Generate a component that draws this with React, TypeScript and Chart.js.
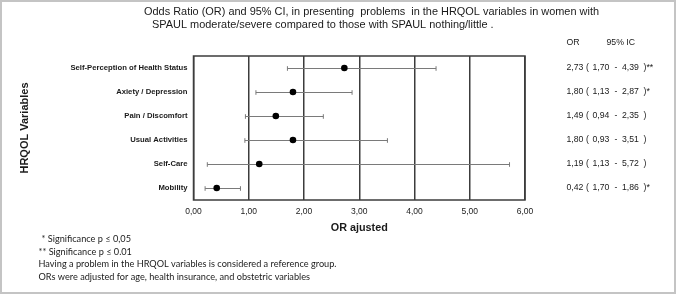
import React, { useEffect, useRef } from 'react';
import { Chart, registerables } from 'chart.js';

Chart.register(...registerables);

const categories = [
  'Self-Perception of Health Status',
  'Axiety / Depression',
  'Pain / Discomfort',
  'Usual Activities',
  'Self-Care',
  'Mobility',
];
const orValues = [2.73, 1.8, 1.49, 1.8, 1.19, 0.42];
const ciLower = [1.7, 1.13, 0.94, 0.93, 0.25, 0.21];
const ciUpper = [4.39, 2.87, 2.35, 3.51, 5.72, 0.85];

const tableOR = ['2,73', '1,80', '1,49', '1,80', '1,19', '0,42'];
const tableLow = ['1,70', '1,13', '0,94', '0,93', '1,13', '1,70'];
const tableHigh = ['4,39', '2,87', '2,35', '3,51', '5,72', '1,86'];
const tableSig = ['**', '*', '', '', '', '*'];
const tableHeaders = ['OR', '95% IC'];

const xMin = 0;
const xMax = 6;
const xStep = 1;

const titleLines = [
  'Odds Ratio (OR) and 95% CI, in presenting  problems  in the HRQOL variables in women with',
  'SPAUL moderate/severe compared to those with SPAUL nothing/little .',
];
const footnotes = [
  '* Significance p \u2264 0,05',
  '** Significance p \u2264 0.01',
  'Having a problem in the HRQOL variables is considered a reference group.',
  'ORs were adjusted for age, health insurance, and obstetric variables',
];
const yAxisTitle = 'HRQOL Variables';
const xAxisTitle = 'OR ajusted';

const TEXT = '#1a1a1a';
const GRID = '#3c3c3c';
const WHISKER = '#7a7a7a';

function drawScaled(ctx: CanvasRenderingContext2D, text: string, x: number, y: number, sx: number) {
  ctx.save();
  ctx.translate(x, y);
  ctx.scale(sx, 1);
  ctx.fillText(text, 0, 0);
  ctx.restore();
}

const decorPlugin = {
  id: 'decor',
  beforeDraw(chart: any) {
    const { ctx, width, height } = chart;
    ctx.save();
    ctx.fillStyle = '#ffffff';
    ctx.fillRect(0, 0, width, height);
    ctx.strokeStyle = '#c4c4c4';
    ctx.lineWidth = 2;
    ctx.strokeRect(1, 1, width - 2, height - 2);
    ctx.restore();
  },
  beforeDatasetsDraw(chart: any) {
    const { ctx, chartArea, scales } = chart;
    const xs = scales.x;
    const ys = scales.y;
    ctx.save();
    // plot box
    ctx.strokeStyle = GRID;
    ctx.lineWidth = 1.5;
    ctx.strokeRect(chartArea.left, chartArea.top, chartArea.right - chartArea.left, chartArea.bottom - chartArea.top);
    // error bars
    ctx.strokeStyle = WHISKER;
    ctx.lineWidth = 1;
    const cap = 2.3;
    categories.forEach((_, i) => {
      const y = Math.round(ys.getPixelForValue(i)) + 0.5;
      const x1 = xs.getPixelForValue(ciLower[i]);
      const x2 = xs.getPixelForValue(ciUpper[i]);
      ctx.beginPath();
      ctx.moveTo(x1, y);
      ctx.lineTo(x2, y);
      ctx.moveTo(x1, y - cap);
      ctx.lineTo(x1, y + cap);
      ctx.moveTo(x2, y - cap);
      ctx.lineTo(x2, y + cap);
      ctx.stroke();
    });
    ctx.restore();
  },
  afterDraw(chart: any) {
    const { ctx, scales } = chart;
    const ys = scales.y;
    ctx.save();
    ctx.fillStyle = TEXT;
    ctx.textBaseline = 'middle';
    ctx.textAlign = 'left';

    // title
    ctx.font = '10.8px "Liberation Sans", Arial, sans-serif';
    const tScale = 455 / ctx.measureText(titleLines[0]).width;
    drawScaled(ctx, titleLines[0], 144, 12.5, tScale);
    drawScaled(ctx, titleLines[1], 152, 25, tScale);

    // table
    ctx.font = '8.7px "Liberation Sans", Arial, sans-serif';
    ctx.fillText(tableHeaders[0], 566.5, 42.5);
    ctx.fillText(tableHeaders[1], 606.5, 42.5);
    categories.forEach((_, i) => {
      const y = ys.getPixelForValue(i);
      const x0 = 566.5;
      ctx.fillText(tableOR[i], x0, y);
      ctx.fillText('(', x0 + 19.5, y);
      ctx.fillText(tableLow[i], x0 + 26, y);
      ctx.fillText('-', x0 + 48, y);
      ctx.fillText(tableHigh[i], x0 + 55.5, y);
      ctx.fillText(')' + tableSig[i], x0 + 77, y);
    });

    // footnotes
    ctx.font = '10px Lato, "Open Sans", sans-serif';
    const fScale = 298 / ctx.measureText(footnotes[2]).width;
    const fy = [239, 251.5, 264, 276.5];
    const fx = [41.5, 38.5, 38.5, 38.5];
    footnotes.forEach((t, i) => drawScaled(ctx, t, fx[i], fy[i], fScale));
    ctx.restore();
  },
};

export default function App() {
  const ref = useRef<HTMLCanvasElement | null>(null);
  useEffect(() => {
    if (!ref.current) return;
    const chart = new Chart(ref.current, {
      type: 'scatter',
      data: {
        datasets: [
          {
            data: categories.map((c, i) => ({ x: orValues[i], y: c })) as any,
            backgroundColor: '#000000',
            borderColor: '#000000',
            pointRadius: 3.3,
            pointHoverRadius: 3.3,
            borderWidth: 0,
          },
        ],
      },
      options: {
        animation: false,
        responsive: false,
        events: [],
        layout: { padding: { top: 56, right: 151, bottom: 0, left: 0 } },
        plugins: {
          legend: { display: false },
          tooltip: { enabled: false },
          title: { display: false },
        },
        scales: {
          x: {
            type: 'linear',
            min: xMin,
            max: xMax,
            afterFit: (s: any) => {
              s.height = 94;
            },
            ticks: {
              stepSize: xStep,
              padding: 7,
              color: TEXT,
              font: { family: '"Liberation Sans", Arial, sans-serif', size: 8.5 },
              callback: (v: any) => Number(v).toFixed(2).replace('.', ','),
            },
            grid: { color: GRID, lineWidth: 1.5, drawTicks: false },
            border: { display: false },
            title: {
              display: true,
              text: xAxisTitle,
              color: TEXT,
              font: { family: '"Liberation Sans", Arial, sans-serif', size: 10.8, weight: 'bold' },
              padding: { top: 0, bottom: 59.5 },
            },
          },
          y: {
            type: 'category',
            labels: categories,
            offset: true,
            afterFit: (s: any) => {
              s.width = 193.5;
            },
            ticks: {
              padding: 6,
              color: TEXT,
              font: { family: '"Liberation Sans", Arial, sans-serif', size: 7.7, weight: 'bold' },
            },
            grid: { display: false, drawTicks: false },
            border: { display: false },
            title: {
              display: true,
              text: yAxisTitle,
              color: TEXT,
              font: { family: '"Liberation Sans", Arial, sans-serif', size: 11, weight: 'bold' },
              padding: { top: 18.4, bottom: 0 },
            },
          },
        },
      },
      plugins: [decorPlugin],
    });
    return () => chart.destroy();
  }, []);
  return (
    <div style={{ position: 'fixed', left: 0, top: 0, width: 676, height: 294 }}>
      <canvas ref={ref} width={676} height={294} />
    </div>
  );
}
